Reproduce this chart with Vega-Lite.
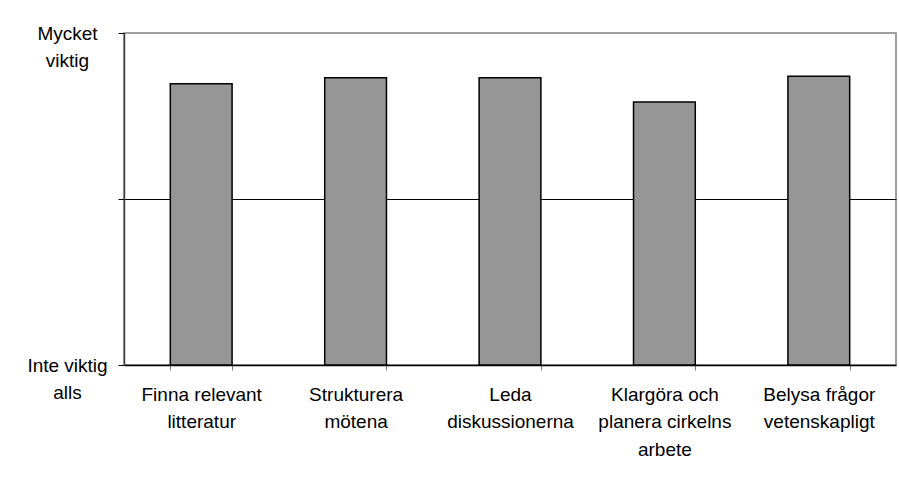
{
  "$schema": "https://vega.github.io/schema/vega-lite/v6.json",
  "autosize": "none",
  "width": 772,
  "height": 332,
  "padding": {"left": 124, "top": 33, "right": 3, "bottom": 120},
  "background": "white",
  "config": {
    "view": {"stroke": "#808080", "strokeWidth": 1.5},
    "font": "Liberation Sans",
    "axis": {"labelFont": "Liberation Sans", "labelFontSize": 19, "labelColor": "black", "labelLineHeight": 27.5}
  },
  "data": {
    "values": [
      {"uppgift": "Finna relevant litteratur", "betyg": 4.39},
      {"uppgift": "Strukturera mötena", "betyg": 4.46},
      {"uppgift": "Leda diskussionerna", "betyg": 4.46},
      {"uppgift": "Klargöra och planera cirkelns arbete", "betyg": 4.17},
      {"uppgift": "Belysa frågor vetenskapligt", "betyg": 4.48}
    ]
  },
  "mark": {"type": "bar", "fill": "#969696", "stroke": "black", "strokeWidth": 1.5},
  "encoding": {
    "x": {
      "field": "uppgift",
      "type": "nominal",
      "sort": null,
      "title": null,
      "scale": {"paddingInner": 0.6, "paddingOuter": 0.3},
      "axis": {
        "labelAngle": 0,
        "labelAlign": "center",
        "labelBaseline": "top",
        "labelPadding": 15,
        "tickBand": "extent",
        "tickSize": 5,
        "tickColor": "#808080",
        "domainColor": "black",
        "domainWidth": 1.5,
        "grid": false,
        "labelExpr": "datum.extra ? '' : datum.value == 'Finna relevant litteratur' ? ['Finna relevant', 'litteratur'] : datum.value == 'Strukturera mötena' ? ['Strukturera', 'mötena'] : datum.value == 'Leda diskussionerna' ? ['Leda', 'diskussionerna'] : datum.value == 'Klargöra och planera cirkelns arbete' ? ['Klargöra och', 'planera cirkelns', 'arbete'] : ['Belysa frågor', 'vetenskapligt']"
      }
    },
    "y": {
      "field": "betyg",
      "type": "quantitative",
      "title": null,
      "scale": {"domain": [1, 5], "nice": false, "zero": false},
      "axis": {
        "values": [1, 3, 5],
        "grid": true,
        "gridColor": {"condition": {"test": "datum.value == 3", "value": "black"}, "value": "transparent"},
        "gridWidth": 1,
        "tickSize": 6,
        "tickColor": "black",
        "domainColor": "#404040",
        "domainWidth": 1.5,
        "labelAlign": "center",
        "labelBaseline": "middle",
        "labelPadding": 51,
        "labelOffset": 0,
        "labelExpr": "datum.value == 5 ? ['Mycket', 'viktig'] : datum.value == 1 ? ['Inte viktig', 'alls'] : ''"
      }
    },
    "y2": {"datum": 1}
  }
}
